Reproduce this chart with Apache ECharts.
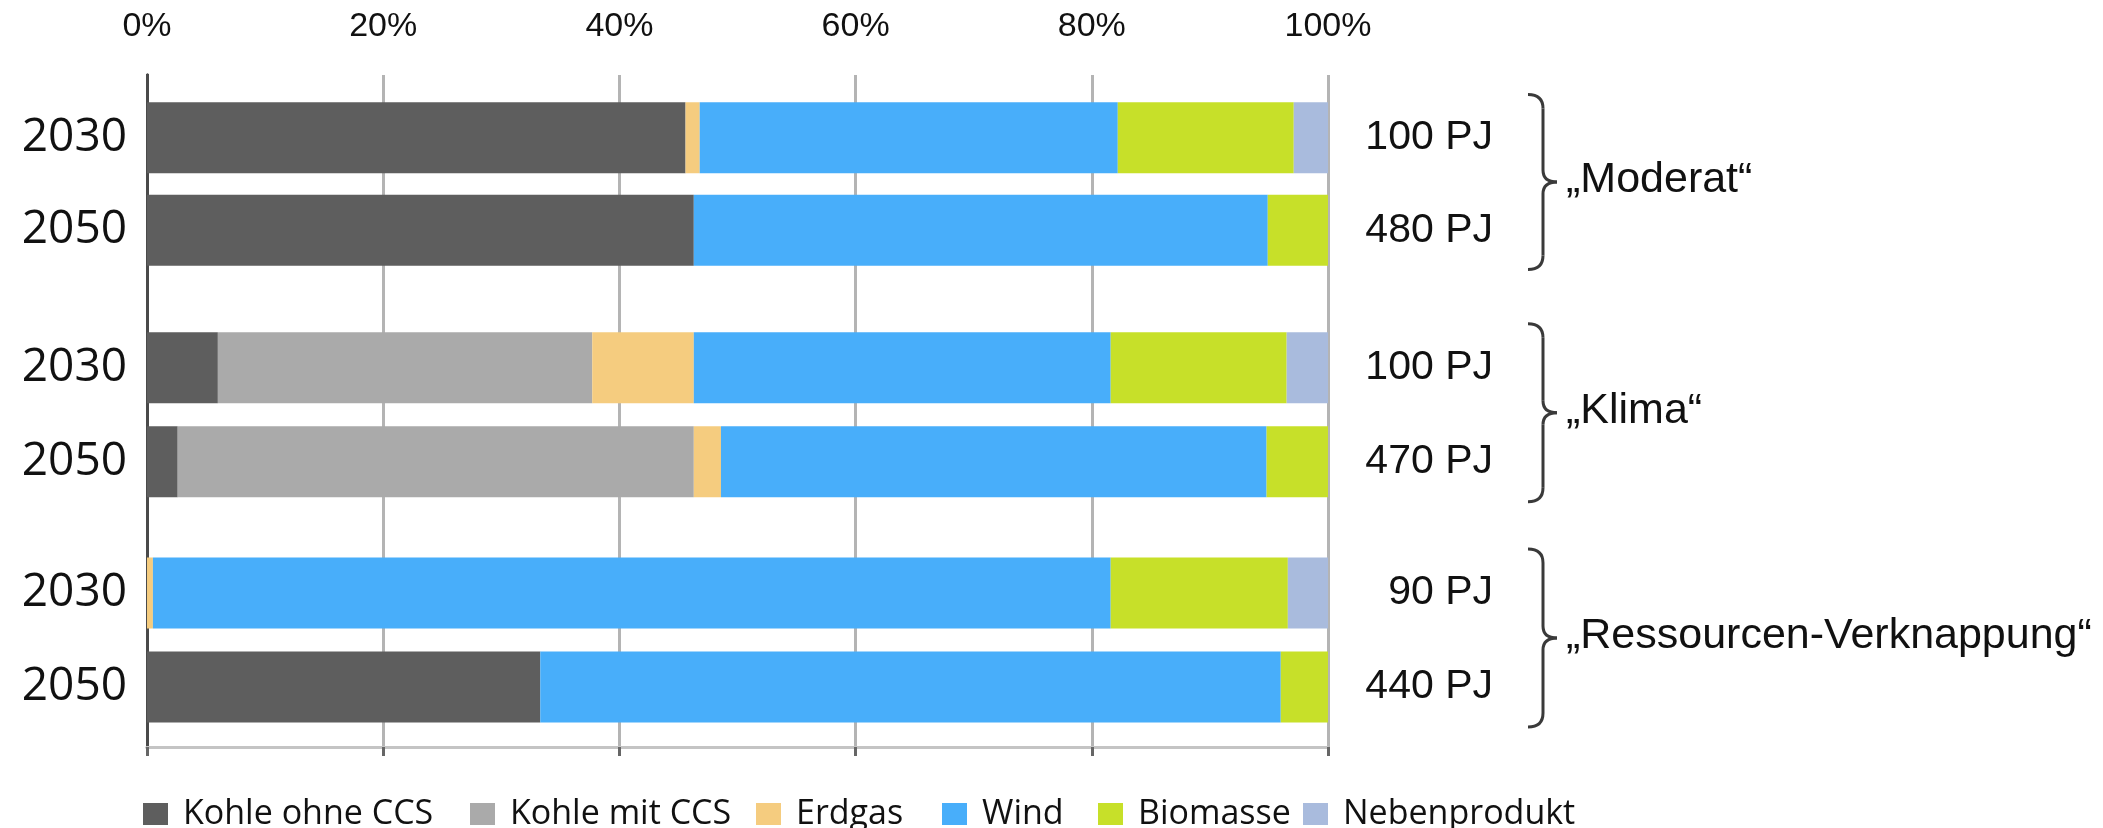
<!DOCTYPE html>
<html>
<head>
<meta charset="utf-8">
<script src="https://cdn.jsdelivr.net/npm/echarts@6/dist/echarts.min.js"></script>
<style>
  html, body { margin: 0; padding: 0; background: #fff; }
  #main { width: 2103px; height: 828px; }
</style>
</head>
<body>
<div id="main"></div>
<script>
// Daten (Anteile in %), Reihenfolge: Moderat 2030/2050, Klima 2030/2050, Ressourcen 2030/2050
var years = ['2030', '2050'];
var scenarios = ['\u201EModerat\u201C', '\u201EKlima\u201C', '\u201ERessourcen-Verknappung\u201C'];
var pjLabels = [['100 PJ', '480 PJ'], ['100 PJ', '470 PJ'], ['90 PJ', '440 PJ']];
var xTicks = [0, 20, 40, 60, 80, 100];

var kohleOhneCCS = [45.6, 46.3, 6.0, 2.6, 0, 33.3];
var kohleMitCCS  = [0, 0, 31.7, 43.7, 0, 0];
var erdgas       = [1.2, 0, 8.6, 2.3, 0.5, 0];
var wind         = [35.4, 48.6, 35.3, 46.2, 81.1, 62.7];
var biomasse     = [14.9, 5.1, 14.9, 5.2, 15.0, 4.0];
var nebenprodukt = [2.9, 0, 3.5, 0, 3.4, 0];

var fuels = [
  { name: 'Kohle ohne CCS', data: kohleOhneCCS, color: '#5e5e5e' },
  { name: 'Kohle mit CCS', data: kohleMitCCS, color: '#aaaaaa' },
  { name: 'Erdgas', data: erdgas, color: '#f5cc7f' },
  { name: 'Wind', data: wind, color: '#48aefa' },
  { name: 'Biomasse', data: biomasse, color: '#c7e029' },
  { name: 'Nebenprodukt', data: nebenprodukt, color: '#a9bbdd' }
];

// Layout
var plotLeft = 147, plotWidth = 1181, plotTop = 75, plotHeight = 672;
var groupTops = [91.5, 320.8, 546];
var groupHeights = [185, 188, 188];
var barWidth = 71;
var legendLefts = [138, 465, 751, 937, 1093, 1298];

var myChart = echarts.init(document.getElementById('main'));

var grids = [{ left: plotLeft, top: plotTop, width: plotWidth, height: plotHeight, outerBoundsMode: 'none' }];
var xAxes = [
  {
    gridIndex: 0, type: 'value', position: 'top', min: 0, max: 100, interval: 20,
    axisLine: { show: true, lineStyle: { color: '#a8a8a8', width: 3 } },
    axisTick: { show: false },
    axisLabel: {
      margin: 31, fontFamily: 'Liberation Sans', fontSize: 34, color: '#111',
      formatter: function (v) { return xTicks.indexOf(v) >= 0 ? v + '%' : ''; }
    },
    splitLine: { show: true, lineStyle: { color: '#b4b4b4', width: 3 } }
  },
  {
    gridIndex: 0, type: 'value', position: 'bottom', min: 0, max: 100, interval: 20,
    axisLine: { show: true, lineStyle: { color: '#c4c4c4', width: 3 } },
    axisTick: { show: true, length: 9, lineStyle: { color: '#666', width: 3 } },
    axisLabel: { show: false },
    splitLine: { show: false }
  }
];
var yAxes = [
  {
    gridIndex: 0, type: 'value', position: 'left',
    axisLine: { show: true, lineStyle: { color: '#222', width: 3 } },
    axisTick: { show: false }, axisLabel: { show: false }, splitLine: { show: false }
  },
  {
    gridIndex: 0, type: 'value', position: 'right',
    axisLine: { show: true, lineStyle: { color: '#4a4a4a', width: 3 } },
    axisTick: { show: false }, axisLabel: { show: false }, splitLine: { show: false }
  }
];
var series = [];
var graphics = [];

function curve(ax, ay, cx, cy, bx, by) {
  return {
    type: 'bezierCurve',
    shape: { x1: ax, y1: ay, cpx1: cx, cpy1: cy, x2: bx, y2: by },
    style: { fill: null, stroke: '#3a3a3a', lineWidth: 3 }
  };
}
function vline(x, ya, yb) {
  return {
    type: 'line',
    shape: { x1: x, y1: ya, x2: x, y2: yb },
    style: { stroke: '#3a3a3a', lineWidth: 3 }
  };
}

scenarios.forEach(function (sc, g) {
  grids.push({ left: plotLeft, top: groupTops[g], width: plotWidth, height: groupHeights[g], outerBoundsMode: 'none' });
  var gi = g + 1;
  xAxes.push({
    gridIndex: gi, type: 'value', min: 0, max: 100, show: false,
    splitLine: { show: false }
  });
  yAxes.push({
    gridIndex: gi, type: 'category', inverse: true, position: 'left', data: years,
    axisLine: { show: false }, axisTick: { show: false },
    axisLabel: { margin: 20, fontFamily: 'Open Sans', fontSize: 46, color: '#111' }
  });
  yAxes.push({
    gridIndex: gi, type: 'category', inverse: true, position: 'right', data: pjLabels[g],
    axisLine: { show: false }, axisTick: { show: false },
    axisLabel: { margin: 165, align: 'right', fontFamily: 'Liberation Sans', fontSize: 41, color: '#111' }
  });
  fuels.forEach(function (f) {
    series.push({
      type: 'bar', name: f.name, stack: 'grp' + g,
      xAxisIndex: g + 2, yAxisIndex: 2 + g * 2,
      barWidth: barWidth,
      itemStyle: { color: f.color },
      data: [f.data[g * 2], f.data[g * 2 + 1]]
    });
  });

  // geschweifte Klammer + Szenarioname
  var top = groupTops[g] + 3, bot = groupTops[g] + groupHeights[g] - 7;
  var mid = (top + bot) / 2;
  var x0 = 1528, xm = 1543, x2 = 1557;
  graphics.push(curve(x0, top, xm, top, xm, top + 14));
  graphics.push(vline(xm, top + 14, mid - 12));
  graphics.push(curve(xm, mid - 12, xm, mid, x2, mid));
  graphics.push(curve(x2, mid, xm, mid, xm, mid + 12));
  graphics.push(vline(xm, mid + 12, bot - 14));
  graphics.push(curve(xm, bot - 14, xm, bot, x0, bot));
  graphics.push({
    type: 'text', left: 1566, top: mid - 23,
    style: { text: sc, font: '43px "Liberation Sans"', fill: '#111' }
  });
});

var legends = fuels.map(function (f, i) {
  return {
    data: [f.name], left: legendLefts[i], top: 792,
    itemWidth: 25, itemHeight: 22, icon: 'rect',
    selectedMode: false,
    textStyle: { fontFamily: 'Open Sans', fontSize: 34, color: '#111', padding: [0, 0, 0, 10] }
  };
});

var option = {
  animation: false,
  grid: grids,
  xAxis: xAxes,
  yAxis: yAxes,
  legend: legends,
  series: series,
  graphic: graphics
};

myChart.setOption(option);
</script>
</body>
</html>
